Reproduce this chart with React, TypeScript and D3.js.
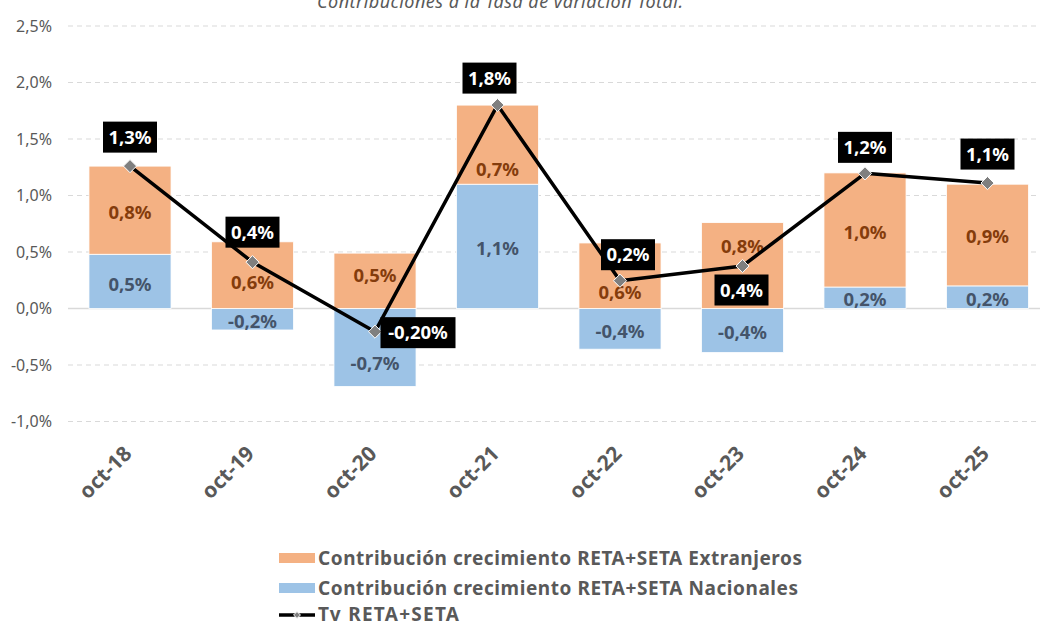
import React from "react";
import * as d3 from "d3";

const categories = ["oct-18", "oct-19", "oct-20", "oct-21", "oct-22", "oct-23", "oct-24", "oct-25"];
const extranjeros = [0.78, 0.59, 0.49, 0.70, 0.58, 0.76, 1.01, 0.90];
const nacionales = [0.48, -0.19, -0.69, 1.10, -0.36, -0.39, 0.19, 0.20];
const tvTotal = [1.26, 0.41, -0.205, 1.80, 0.246, 0.376, 1.196, 1.11];
const tvLabels = ["1,3%", "0,4%", "-0,20%", "1,8%", "0,2%", "0,4%", "1,2%", "1,1%"];
const yTicks = [-1, -0.5, 0, 0.5, 1, 1.5, 2, 2.5];
const seriesNames = [
  "Contribución crecimiento RETA+SETA Extranjeros",
  "Contribución crecimiento RETA+SETA Nacionales",
  "Tv RETA+SETA",
];
const title = "Contribuciones a la Tasa de variación Total.";

// label placement (layout, not data)
const tvLabelOffsets: [number, number][] = [
  [0, -29], [0, -30], [43, 1], [-8, -27], [8, -26], [-1, 24], [0, -26], [0, -29],
];
const extLabelShift = [2, 7, -5, 25, 17, -19, 2, 1];
const nacLabelShift = [3, 2, 16, 2, 2, 2, 2, 2];

const W = 1040;
const H = 626;
const FONT = "'Noto Sans', 'Open Sans', sans-serif";
const EXT_COLOR = "#F4B183";
const NAC_COLOR = "#9DC3E6";
const GRID = "#d9d9d9";
const AXIS_TEXT = "#595959";

const fmt1 = (v: number) => (Math.round(v * 10) / 10).toFixed(1).replace(".", ",") + "%";

export default function App() {
  const x = d3
    .scaleBand<string>()
    .domain(categories)
    .range([68.75, 1048.75])
    .paddingInner(0.33)
    .paddingOuter(0.165);
  const y = d3.scaleLinear().domain([-1, 2.5]).range([421.5, 26]);

  const rows = categories.map((c, i) => ({ cat: c, nac: nacionales[i], ext: extranjeros[i] }));
  const stack = d3
    .stack<any>()
    .keys(["nac", "ext"])
    .offset(d3.stackOffsetDiverging);
  const stacked = stack(rows);

  const cx = (i: number) => (x(categories[i]) as number) + x.bandwidth() / 2;
  const line = d3
    .line<number>()
    .x((_, i) => cx(i))
    .y((d) => y(d));

  const diamondType = (d3 as any).symbolDiamond2 ?? d3.symbolDiamond;
  const diamond = d3.symbol().type(diamondType).size(110)();

  const labelColors: Record<string, string> = { nac: "#44546A", ext: "#843C0C" };
  const fills: Record<string, string> = { nac: NAC_COLOR, ext: EXT_COLOR };

  return (
    <svg
      width={W}
      height={H}
      style={{ position: "absolute", left: 0, top: 0, background: "#fff" }}
      fontFamily={FONT}
    >
      <rect x={0} y={0} width={W} height={H} fill="#fff" />
      {/* title */}
      <text
        x={500}
        y={8}
        textAnchor="middle"
        fontStyle="italic"
        fontSize={18}
        fill={AXIS_TEXT}
        textLength={366}
        lengthAdjust="spacing"
      >
        {title}
      </text>

      {/* gridlines */}
      {yTicks.map((t) => (
        <line
          key={t}
          x1={68}
          x2={W}
          y1={y(t)}
          y2={y(t)}
          stroke={GRID}
          strokeWidth={t === 0 ? 1.6 : 1}
          strokeDasharray={t === 0 ? undefined : "5,4"}
        />
      ))}
      {/* y tick labels */}
      {yTicks.map((t) => (
        <text
          key={"l" + t}
          x={52}
          y={y(t)}
          dy="0.35em"
          textAnchor="end"
          fontSize={16}
          fill={AXIS_TEXT}
        >
          {t.toFixed(1).replace(".", ",") + "%"}
        </text>
      ))}

      {/* bars */}
      {stacked.map((s) =>
        s.map((d, i) => (
          <rect
            key={s.key + i}
            x={x(categories[i])}
            width={x.bandwidth()}
            y={y(Math.max(d[0], d[1]))}
            height={Math.abs(y(d[0]) - y(d[1]))}
            fill={fills[s.key]}
            stroke="#fff"
            strokeWidth={0.8}
          />
        ))
      )}
      {/* bar labels */}
      {stacked.map((s) =>
        s.map((d, i) => (
          <text
            key={"bl" + s.key + i}
            x={cx(i)}
            y={(y(d[0]) + y(d[1])) / 2 + (s.key === "nac" ? nacLabelShift[i] : extLabelShift[i])}
            dy="0.36em"
            textAnchor="middle"
            fontSize={18.5}
            fontWeight="bold"
            fill={labelColors[s.key]}
          >
            {fmt1(s.key === "nac" ? nacionales[i] : extranjeros[i])}
          </text>
        ))
      )}

      {/* total line */}
      <path d={line(tvTotal) || ""} fill="none" stroke="#000" strokeWidth={3.5} strokeLinejoin="round" />
      {tvTotal.map((v, i) => (
        <path
          key={"m" + i}
          d={diamond || ""}
          transform={`translate(${cx(i)},${y(v)})`}
          fill="#7f7f7f"
          stroke="#fff"
          strokeWidth={1}
        />
      ))}
      {/* total labels */}
      {tvTotal.map((v, i) => {
        const [dx, dy] = tvLabelOffsets[i];
        const lx = cx(i) + dx;
        const ly = y(v) + dy;
        const w = tvLabels[i].length * 10.5 + 12;
        return (
          <g key={"tl" + i}>
            <rect x={lx - w / 2} y={ly - 15.5} width={w} height={31} fill="#000" />
            <text
              x={lx}
              y={ly}
              dy="0.36em"
              textAnchor="middle"
              fontSize={18.5}
              fontWeight="bold"
              fill="#fff"
            >
              {tvLabels[i]}
            </text>
          </g>
        );
      })}

      {/* x labels */}
      {categories.map((c, i) => (
        <text
          key={"x" + c}
          transform={`translate(${cx(i) + 3},455) rotate(-45)`}
          textAnchor="end"
          fontSize={21}
          fontWeight="bold"
          fill={AXIS_TEXT}
        >
          {c}
        </text>
      ))}

      {/* legend */}
      <g>
        <rect x={279} y={553} width={36} height={10} fill={EXT_COLOR} />
        <text x={318} y={558} dy="0.36em" fontSize={19} fontWeight="bold" fill={AXIS_TEXT} textLength={484} lengthAdjust="spacing">
          {seriesNames[0]}
        </text>
        <rect x={279} y={583} width={36} height={10} fill={NAC_COLOR} />
        <text x={318} y={588} dy="0.36em" fontSize={19} fontWeight="bold" fill={AXIS_TEXT} textLength={480} lengthAdjust="spacing">
          {seriesNames[1]}
        </text>
        <line x1={279} x2={315} y1={615} y2={615} stroke="#000" strokeWidth={3.5} />
        <path
          d={d3.symbol().type(diamondType).size(30)() || ""}
          transform="translate(297,615)"
          fill="#7f7f7f"
          stroke="#fff"
          strokeWidth={1}
        />
        <text x={318} y={614} dy="0.36em" fontSize={19} fontWeight="bold" fill={AXIS_TEXT} textLength={141} lengthAdjust="spacing">
          {seriesNames[2]}
        </text>
      </g>
    </svg>
  );
}
